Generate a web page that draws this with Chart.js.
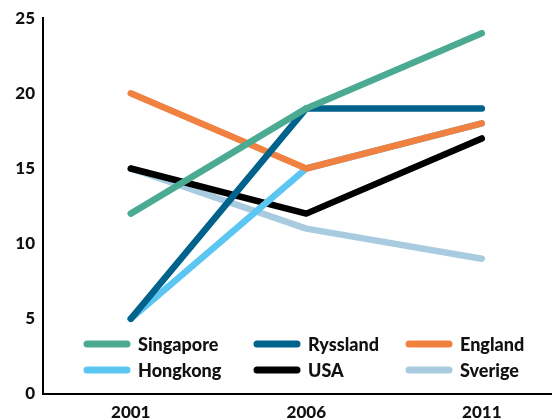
<!DOCTYPE html>
<html>
<head>
<meta charset="utf-8">
<script src="https://cdn.jsdelivr.net/npm/chart.js@4/dist/chart.umd.min.js"></script>
<style>
  html, body { margin: 0; padding: 0; background: #fff; }
  #wrap { width: 552px; height: 419px; }
</style>
</head>
<body>
<div id="wrap"><canvas id="chart" width="552" height="419"></canvas></div>
<script>
const years = [2001, 2006, 2011];
const yTicks = [0, 5, 10, 15, 20, 25];

const singapore = [12, 19, 24];
const ryssland  = [5, 19, 19];
const england   = [20, 15, 18];
const hongkong  = [5, 15, 18];
const usa       = [15, 12, 17];
const sverige   = [15, 11, 9];

const seriesNames = ["Singapore", "Ryssland", "England", "Hongkong", "USA", "Sverige"];
const seriesData  = [singapore, ryssland, england, hongkong, usa, sverige];
const seriesColors = ["#4bab92", "#01628b", "#f08140", "#5cc6f2", "#000000", "#a8cbe0"];

const FONT = "Lato, 'DejaVu Sans', sans-serif";

// legend drawn inside the plot area, 3 columns x 2 rows
const insideLegend = {
  id: "insideLegend",
  afterDraw(chart) {
    const ctx = chart.ctx;
    const colX = [87, 257, 409];
    const rowY = [344, 370];
    ctx.save();
    chart.data.datasets.forEach((ds, i) => {
      const x = colX[i % 3], y = rowY[Math.floor(i / 3)];
      ctx.strokeStyle = ds.borderColor;
      ctx.lineWidth = 7;
      ctx.lineCap = "round";
      ctx.beginPath();
      ctx.moveTo(x, y);
      ctx.lineTo(x + 40, y);
      ctx.stroke();
      ctx.fillStyle = "#111";
      ctx.font = "900 18px " + FONT;
      ctx.textBaseline = "middle";
      ctx.textAlign = "left";
      ctx.fillText(ds.label, x + 51, y + 1);
    });
    ctx.restore();
  }
};

new Chart(document.getElementById("chart"), {
  type: "line",
  data: {
    datasets: seriesNames.map((name, i) => ({
      label: name,
      data: years.map((yr, j) => ({ x: yr, y: seriesData[i][j] })),
      borderColor: seriesColors[i],
      backgroundColor: seriesColors[i],
      borderWidth: 6.5,
      borderCapStyle: "round",
      borderJoinStyle: "round",
      pointRadius: 0,
      tension: 0,
    }))
  },
  options: {
    responsive: false,
    animation: false,
    layout: { padding: { top: 18, right: 0, left: 0, bottom: 0 } },
    plugins: { legend: { display: false }, tooltip: { enabled: false } },
    scales: {
      x: {
        type: "linear",
        min: 1998.5,
        max: 2013.0,
        afterBuildTicks: s => { s.ticks = years.map(v => ({ value: v })); },
        afterFit: s => { s.height = 25; },
        grid: { display: false, drawTicks: false },
        border: { display: true, color: "#000", width: 2 },
        ticks: { color: "#111", padding: 8, font: { family: FONT, size: 17, weight: "900" }, callback: v => String(v), maxRotation: 0 }
      },
      y: {
        min: 0,
        max: 25,
        afterBuildTicks: s => { s.ticks = yTicks.map(v => ({ value: v })); },
        afterFit: s => { s.width = 43; },
        grid: { display: false, drawTicks: false },
        border: { display: true, color: "#000", width: 2 },
        ticks: { color: "#111", padding: 8, font: { family: FONT, size: 17, weight: "900" } }
      }
    }
  },
  plugins: [insideLegend]
});
</script>
</body>
</html>
